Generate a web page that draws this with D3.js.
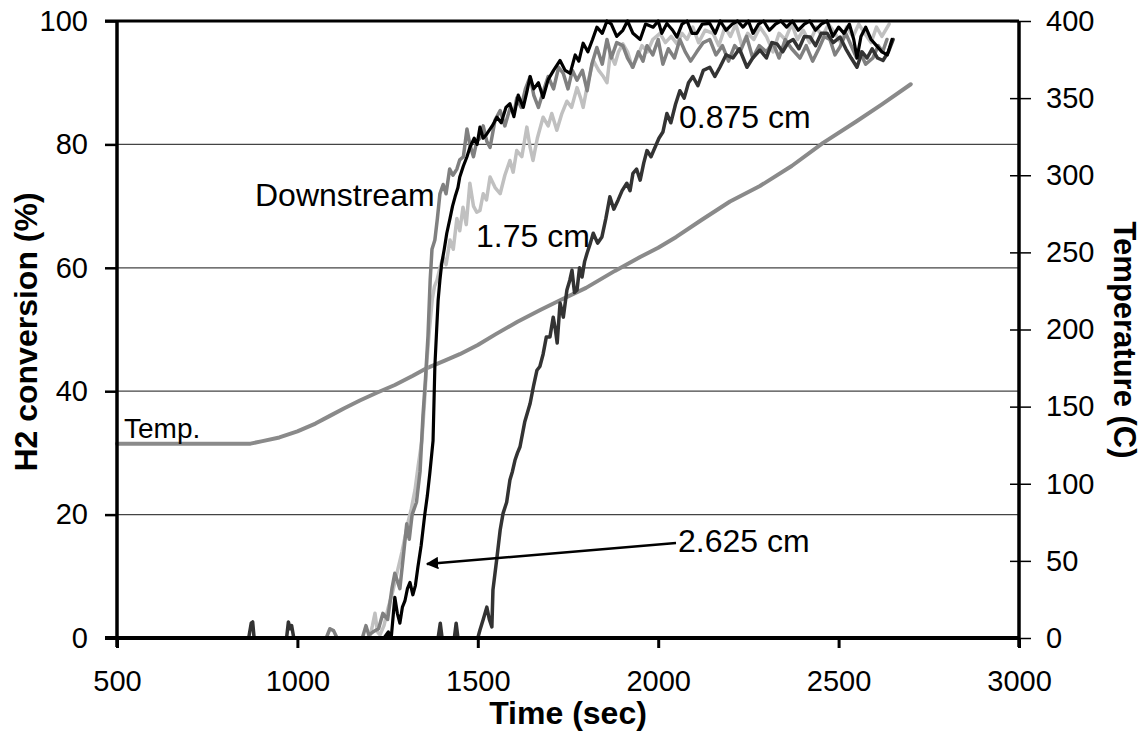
<!DOCTYPE html>
<html lang="en">
<head>
<meta charset="utf-8">
<title>H2 conversion vs time</title>
<script src="https://d3js.org/d3.v7.min.js"></script>
<style>
  body { margin: 0; background: #fff; }
  svg { display: block; }
  text { font-family: "Liberation Sans", Arial, sans-serif; fill: #000; }
  .tick line { stroke: #000; }
  .tick text { font-size: 29px; }
  .title { font-size: 32px; font-weight: bold; }
  .note { font-size: 32px; }
</style>
</head>
<body>
<svg id="chart" width="1143" height="745"></svg>
<script>
// ---- data ----
var timeTicks = [500, 1000, 1500, 2000, 2500, 3000];
var convTicks = [0, 20, 40, 60, 80, 100];
var tempTicks = [0, 50, 100, 150, 200, 250, 300, 350, 400];

// [time (s), H2 conversion (%)]
var downstream = [[500,0],[1080,0],[1090,1.5],[1100,1.2],[1110,0],[1180,0],[1190,2],[1198,0.5],[1210,1],[1225,1.5],[1237,4],[1250,3],[1262,8],[1270,10.5],[1284,8],[1295,14],[1303,18.5],[1310,16],[1318,20],[1330,22],[1340,27],[1348,36],[1355,42],[1362,49],[1368,58],[1373,63],[1381,64.5],[1388,68],[1395,72],[1404,73.5],[1412,72],[1422,76],[1431,75],[1442,76],[1450,77.5],[1460,78],[1470,82.5],[1478,80],[1488,78],[1497,80.5],[1506,81],[1515,83],[1525,80.5],[1534,79.5],[1548,84],[1562,85.5],[1575,83],[1590,86],[1600,85],[1608,87.5],[1620,86],[1632,89],[1645,91],[1655,88],[1668,86],[1681,88.5],[1695,91],[1710,89],[1724,92.5],[1737,91.5],[1750,89],[1762,92],[1775,90.4],[1790,92],[1803,88.7],[1816,93],[1830,95.7],[1845,93],[1858,97],[1870,94],[1885,96.5],[1902,96],[1915,94],[1930,92.5],[1945,95],[1958,93.5],[1969,96],[1985,94.5],[2000,97],[2013,93],[2028,95.5],[2045,94],[2060,97],[2075,95],[2090,93.5],[2107,95],[2125,96.5],[2143,97],[2160,94.5],[2178,96],[2195,93.5],[2212,96],[2227,95],[2245,97.5],[2262,94],[2280,96],[2300,95],[2318,96.5],[2335,94],[2352,97],[2370,95.5],[2393,94],[2410,96],[2428,93.5],[2445,95.5],[2460,97.5],[2476,97],[2490,94.5],[2504,95.8],[2520,98],[2535,96],[2550,94],[2559,95],[2575,93],[2595,94],[2610,96],[2622,95],[2634,97]];

var cm2625 = [[500,0],[1240,0],[1252,1],[1260,0],[1270,6.6],[1277,4],[1284,2.4],[1291,5],[1298,6],[1305,8],[1312,9],[1320,7],[1327,8.5],[1334,11.5],[1343,15],[1353,20],[1360,23],[1367,26.7],[1376,32],[1381,44],[1386,50],[1390,54.7],[1395,58],[1400,60.7],[1407,63],[1414,65.6],[1423,68],[1430,70],[1437,71.5],[1445,73],[1450,74.7],[1460,76.5],[1470,78],[1478,79.5],[1490,81],[1498,80],[1506,82.8],[1515,81],[1525,81.7],[1540,83],[1553,84.4],[1565,83.5],[1578,86],[1589,86.6],[1600,84.5],[1612,88],[1626,86],[1636,88.5],[1645,91],[1655,89],[1668,90],[1681,87.6],[1695,90.5],[1710,92],[1728,93.6],[1742,92],[1756,91.5],[1770,94.5],[1780,93.5],[1792,96.4],[1805,95],[1818,97],[1830,99],[1845,98],[1858,100],[1870,99.5],[1885,97.5],[1902,98.5],[1915,100],[1930,98],[1950,97],[1965,99.5],[1986,99],[2000,100],[2010,98],[2024,99.6],[2040,98.5],[2052,97.4],[2066,99.5],[2080,100],[2094,98],[2107,98],[2122,99.5],[2143,99.6],[2158,98],[2172,100],[2188,98.5],[2205,99.5],[2220,100],[2235,99],[2250,100],[2263,98],[2278,99.5],[2292,100],[2308,98.5],[2325,99.5],[2340,100],[2356,99],[2372,100],[2388,98.5],[2405,99.5],[2420,100],[2436,98.5],[2452,99.5],[2468,100],[2484,97.5],[2500,99],[2515,98],[2530,99.5],[2542,97],[2551,94],[2562,97.5],[2575,99],[2590,97],[2605,96],[2620,95],[2635,94.5],[2648,97]];

var cm175 = [[500,0],[1200,0],[1208,2],[1215,4],[1222,1],[1229,0.5],[1240,2],[1252,5],[1262,7],[1276,10.5],[1290,14],[1306,18.6],[1316,21],[1326,24],[1335,28],[1345,32],[1352,38],[1359,45],[1366,50],[1374,55],[1380,57],[1387,58],[1395,60],[1404,61.7],[1412,60.5],[1423,64.5],[1432,63],[1442,68],[1450,66],[1459,69.8],[1468,67],[1478,73.7],[1488,70],[1497,69],[1506,69.3],[1515,72],[1524,71],[1534,74.7],[1548,73],[1562,72],[1575,75],[1589,77.4],[1598,75.5],[1608,79],[1622,78],[1636,82.8],[1645,79.5],[1653,77.4],[1665,81],[1681,84.4],[1695,83],[1705,85],[1719,82.3],[1733,85],[1747,87],[1760,86],[1775,89.2],[1785,87.5],[1792,86],[1805,90],[1820,93.6],[1835,92],[1848,91],[1858,90],[1867,94.7],[1880,93],[1890,95],[1902,96.3],[1915,95],[1928,92.5],[1941,94],[1955,96],[1970,95],[1985,97],[2005,98],[2020,96.5],[2036,97.5],[2052,96.3],[2066,98],[2080,97],[2096,99],[2112,96.5],[2130,98.5],[2152,98],[2168,96],[2185,99],[2200,97.5],[2215,99.5],[2232,96],[2248,98],[2265,97],[2282,99],[2300,97.5],[2318,95],[2335,98],[2352,97],[2370,99.5],[2386,97],[2402,98.5],[2420,96.5],[2438,99],[2455,97.5],[2472,99.5],[2490,98],[2506,96.5],[2522,99],[2540,97.5],[2556,99.5],[2572,98],[2590,96.5],[2605,99],[2620,97.5],[2640,99.5]];

var cm0875 = [[500,0],[865,0],[872,2.4],[876,2.6],[880,0],[970,0],[975,2.6],[980,1.5],[984,2],[990,0],[1390,0],[1396,2.4],[1401,0],[1435,0],[1440,2.4],[1445,0],[1500,0],[1506,1.3],[1515,3],[1525,5],[1532,3],[1539,1.8],[1542,7.8],[1553,13],[1562,17.5],[1570,20.2],[1580,22],[1589,25.6],[1596,27],[1603,28.8],[1610,30],[1617,31],[1630,35],[1645,38],[1655,41],[1664,43.4],[1672,44],[1681,46],[1690,48.8],[1700,48.8],[1709,52],[1715,50],[1720,47.8],[1728,54.3],[1737,52],[1747,56.4],[1755,58],[1761,59.6],[1768,56],[1775,56.4],[1782,60],[1789,58.5],[1796,61],[1803,62.4],[1812,64],[1820,65.6],[1832,64],[1844,65],[1855,68],[1866,71.5],[1877,69.5],[1889,71],[1900,72.5],[1913,73.7],[1922,72.5],[1930,75.3],[1940,76],[1950,74.2],[1960,77],[1969,79],[1980,78],[1991,79.5],[2002,81],[2013,82],[2024,85],[2035,83.5],[2048,86.5],[2060,88.7],[2072,87.5],[2084,90],[2096,91],[2110,89.5],[2125,92],[2143,92.5],[2157,91],[2171,92.5],[2188,94.5],[2207,94],[2225,95.5],[2246,92.5],[2262,94],[2282,95.3],[2300,94],[2315,96.5],[2329,96.3],[2345,95],[2360,96.5],[2374,97],[2390,95.5],[2405,97.5],[2421,97.4],[2436,96],[2452,98],[2468,98],[2485,96.5],[2504,97.4],[2520,95.5],[2535,94],[2551,92.5],[2565,95],[2579,94],[2593,95.5],[2608,94],[2623,93.6],[2638,95],[2651,97]];

// [time (s), temperature (C)]
var temperature = [[500,126],[600,126],[700,126],[800,126],[870,126],[900,127.5],[950,130],[1000,134],[1050,139],[1090,144],[1130,149],[1173,154],[1220,159],[1270,164],[1320,170],[1359,175],[1410,180],[1450,184],[1500,190],[1550,197],[1610,205],[1673,212.6],[1728,219],[1800,227],[1880,238],[1950,247],[2000,253],[2050,260],[2120,271],[2199,283],[2282,293],[2370,306],[2457,321],[2550,335],[2620,346],[2700,359]];

// ---- layout ----
var svg = d3.select("#chart");
var plotL = 117, plotR = 1019, plotT = 21, plotB = 638;

var x = d3.scaleLinear().domain([500, 3000]).range([plotL, plotR]);
var y = d3.scaleLinear().domain([0, 100]).range([plotB, plotT]);
var yT = d3.scaleLinear().domain([0, 400]).range([plotB, plotT]);

// gridlines
svg.append("g")
   .selectAll("line")
   .data(convTicks.filter(function(d){ return d > 0 && d < 100; }))
   .enter().append("line")
   .attr("x1", plotL).attr("x2", plotR)
   .attr("y1", function(d){ return y(d); })
   .attr("y2", function(d){ return y(d); })
   .attr("stroke", "#444").attr("stroke-width", 1.2);

// axes
var gLeft = svg.append("g")
   .attr("transform", "translate(" + plotL + ",0)")
   .call(d3.axisLeft(y).tickValues(convTicks).tickSize(12).tickPadding(17).tickFormat(d3.format("d")));
gLeft.select(".domain").remove();
gLeft.selectAll(".tick line").attr("stroke-width", 2.5);

var gBottom = svg.append("g")
   .attr("transform", "translate(0," + plotB + ")")
   .call(d3.axisBottom(x).tickValues(timeTicks).tickSize(10).tickPadding(22).tickFormat(d3.format("d")));
gBottom.select(".domain").remove();
gBottom.selectAll(".tick line").attr("stroke-width", 3);

// right axis: ticks cross the axis line
var gRight = svg.append("g")
   .attr("transform", "translate(" + (plotR - 9) + ",0)")
   .call(d3.axisRight(yT).tickValues(tempTicks).tickSize(21).tickPadding(15).tickFormat(d3.format("d")));
gRight.select(".domain").remove();
gRight.selectAll(".tick line").attr("stroke-width", 1.5);

svg.selectAll(".tick text").attr("font-family", null);

// series
var line = d3.line()
   .x(function(d){ return x(d[0]); })
   .y(function(d){ return y(d[1]); });
var lineT = d3.line()
   .x(function(d){ return x(d[0]); })
   .y(function(d){ return yT(d[1]); });

var series = [
  { data: temperature, color: "#8a8a8a", width: 4, gen: lineT },
  { data: cm175, color: "#c0c0c0", width: 3.5, gen: line },
  { data: downstream, color: "#808080", width: 3.5, gen: line },
  { data: cm0875, color: "#333333", width: 3.5, gen: line },
  { data: cm2625, color: "#000000", width: 3.2, gen: line }
];

svg.append("g")
   .selectAll("path")
   .data(series)
   .enter().append("path")
   .attr("d", function(s){ return s.gen(s.data); })
   .attr("fill", "none")
   .attr("stroke", function(s){ return s.color; })
   .attr("stroke-width", function(s){ return s.width; })
   .attr("stroke-linejoin", "round")
   .attr("stroke-linecap", "round");

// frame
var frame = svg.append("g").attr("stroke", "#000");
frame.append("line").attr("x1", plotL - 12).attr("x2", plotR).attr("y1", plotT).attr("y2", plotT).attr("stroke-width", 3);
frame.append("line").attr("x1", plotL).attr("x2", plotL).attr("y1", plotT).attr("y2", plotB + 9).attr("stroke-width", 3.5);
frame.append("line").attr("x1", plotR).attr("x2", plotR).attr("y1", plotT).attr("y2", plotB + 9).attr("stroke-width", 3.5);
frame.append("line").attr("x1", plotL - 12).attr("x2", plotR).attr("y1", plotB).attr("y2", plotB).attr("stroke-width", 4);

// axis titles
svg.append("text").attr("class", "title")
   .attr("x", 568).attr("y", 724).attr("text-anchor", "middle")
   .text("Time (sec)");
svg.append("text").attr("class", "title")
   .attr("transform", "translate(37,332) rotate(-90)").attr("text-anchor", "middle")
   .text("H2 conversion (%)");
svg.append("text").attr("class", "title")
   .attr("transform", "translate(1114,340) rotate(90)").attr("text-anchor", "middle")
   .style("font-size", "31px")
   .text("Temperature (C)");

// annotations
svg.append("text").attr("class", "note").attr("x", 255).attr("y", 206).text("Downstream");
svg.append("text").attr("class", "note").attr("x", 476).attr("y", 247).text("1.75 cm");
svg.append("text").attr("class", "note").attr("x", 679).attr("y", 128).text("0.875 cm");
svg.append("text").attr("class", "note").attr("x", 678).attr("y", 552).text("2.625 cm");
svg.append("text").attr("class", "note").attr("x", 124).attr("y", 438)
   .style("font-size", "28px").text("Temp.");

// arrow to the 2.625 cm curve
svg.append("defs").append("marker")
   .attr("id", "head")
   .attr("viewBox", "0 0 10 10")
   .attr("refX", 9).attr("refY", 5)
   .attr("markerWidth", 5).attr("markerHeight", 5)
   .attr("markerUnits", "strokeWidth")
   .attr("orient", "auto")
   .append("path").attr("d", "M0,0 L10,5 L0,10 Z").attr("fill", "#000");

svg.append("line")
   .attr("x1", 676).attr("y1", 543)
   .attr("x2", 427).attr("y2", 564)
   .attr("stroke", "#000").attr("stroke-width", 2.5)
   .attr("marker-end", "url(#head)");
</script>
</body>
</html>
